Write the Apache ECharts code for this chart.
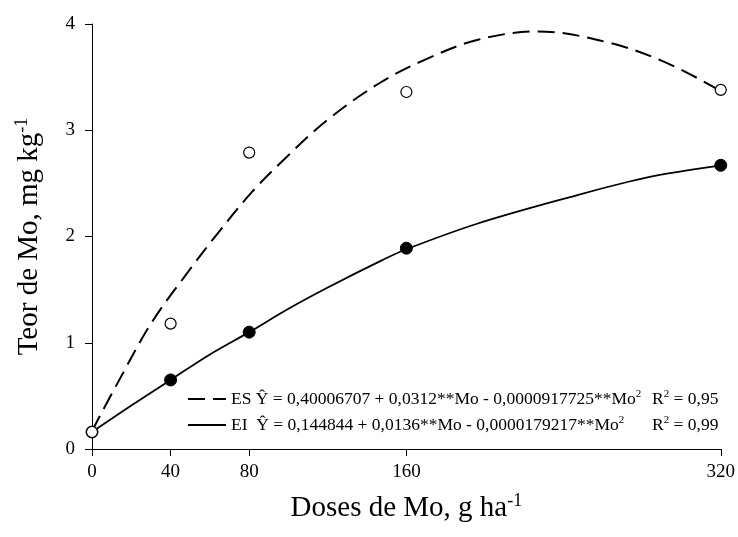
<!DOCTYPE html>
<html>
<head>
<meta charset="utf-8">
<script src="https://cdn.jsdelivr.net/npm/echarts@6/dist/echarts.min.js"></script>
<style>
html,body{margin:0;padding:0;background:#fff;}
#chart{width:738px;height:537px;}
</style>
</head>
<body>
<div id="chart"></div>
<script>
// ---- data ----
const doseTicks = [0, 40, 80, 160, 320];
const yTicks = [0, 1, 2, 3, 4];
const obsDose = [0, 40, 80, 160, 320];
const esObs = [0.16, 1.18, 2.79, 3.36, 3.38];
const eiObs = [0.16, 0.65, 1.10, 1.89, 2.67];
// fitted curves
const esCurveDose = [0, 13, 30, 47, 64, 81, 98, 120, 146, 169, 196, 227, 264, 293, 320];
const esCurveVal  = [0.17, 0.62, 1.18, 1.62, 2.03, 2.41, 2.73, 3.10, 3.44, 3.66, 3.85, 3.93, 3.82, 3.63, 3.37];
const eiCurveDose = [0, 20, 40, 60, 80, 100, 120, 148, 160, 196, 247, 274, 289, 320];
const eiCurveVal  = [0.16, 0.41, 0.65, 0.89, 1.10, 1.32, 1.52, 1.78, 1.88, 2.12, 2.39, 2.52, 2.58, 2.67];
const esLabel = 'ES Ŷ = 0,40006707 + 0,0312**Mo - 0,0000917725**Mo';
const eiLabel = 'EI  Ŷ = 0,144844 + 0,0136**Mo - 0,0000179217**Mo';
const esR2 = ' = 0,95';
const eiR2 = ' = 0,99';

const FONT = "'Liberation Serif', 'Times New Roman', serif";
const LEG_FS = 17.5, SUP_FS = 11;

// measure text to align the R² column
const ctx = document.createElement('canvas').getContext('2d');
function tw(s, fs) { ctx.font = fs + "px 'Liberation Serif'"; return ctx.measureText(s).width; }
const r2Offset = 421;
const spES = Math.max(4, r2Offset - tw(esLabel, LEG_FS) - tw('2', SUP_FS));
const spEI = Math.max(4, r2Offset - tw(eiLabel, LEG_FS) - tw('2', SUP_FS));

const zip = (a, b) => a.map((v, i) => [v, b[i]]);

const chart = echarts.init(document.getElementById('chart'));
chart.setOption({
  animation: false,
  backgroundColor: '#fff',
  grid: { left: 92, right: 16, top: 24, bottom: 88 },
  legend: {
    left: 187, top: 389, orient: 'vertical', padding: 0,
    itemWidth: 38, itemHeight: 14, itemGap: 7, itemTextGap: 10,
    itemStyle: { opacity: 0 },
    data: ['ES', 'EI'],
    formatter: function (name) {
      if (name === 'ES') return '{t|' + esLabel + '}{s|2}{a| }{t|R}{s|2}{t|' + esR2 + '}';
      return '{t|' + eiLabel + '}{s|2}{b| }{t|R}{s|2}{t|' + eiR2 + '}';
    },
    textStyle: {
      fontFamily: FONT, color: '#000',
      rich: {
        t: { fontFamily: FONT, fontSize: LEG_FS, color: '#000', lineHeight: 20 },
        s: { fontFamily: FONT, fontSize: SUP_FS, color: '#000', verticalAlign: 'top', lineHeight: 20 },
        a: { fontFamily: FONT, fontSize: LEG_FS, width: spES, lineHeight: 20 },
        b: { fontFamily: FONT, fontSize: LEG_FS, width: spEI, lineHeight: 20 }
      }
    }
  },
  xAxis: {
    type: 'value', min: 0, max: 320,
    name: '{n|Doses de Mo, g ha}{s|-1}',
    nameLocation: 'middle', nameGap: 43,
    nameTextStyle: {
      rich: {
        n: { fontFamily: FONT, fontSize: 29, color: '#000', lineHeight: 32 },
        s: { fontFamily: FONT, fontSize: 18, color: '#000', verticalAlign: 'top', lineHeight: 32 }
      }
    },
    axisLine: { show: true, lineStyle: { color: '#000', width: 1 } },
    axisTick: { show: true, length: 7, inside: false, customValues: doseTicks, lineStyle: { color: '#000' } },
    axisLabel: { customValues: doseTicks, margin: 14, color: '#000', fontFamily: FONT, fontSize: 19 },
    splitLine: { show: false }
  },
  yAxis: {
    type: 'value', min: 0, max: 4, interval: 1,
    name: '{n|Teor de Mo, mg kg}{s|-1}',
    nameLocation: 'middle', nameGap: 47,
    nameTextStyle: {
      rich: {
        n: { fontFamily: FONT, fontSize: 29, color: '#000', lineHeight: 32 },
        s: { fontFamily: FONT, fontSize: 18, color: '#000', verticalAlign: 'top', lineHeight: 32 }
      }
    },
    axisLine: { show: true, lineStyle: { color: '#000', width: 1 } },
    axisTick: { show: true, length: 7, lineStyle: { color: '#000' } },
    axisLabel: { margin: 17, color: '#000', fontFamily: FONT, fontSize: 19,
      customValues: yTicks },
    splitLine: { show: false }
  },
  series: [
    {
      name: 'ES', type: 'line', data: zip(esCurveDose, esCurveVal),
      smooth: 0.35, symbol: 'none',
      itemStyle: { color: '#000' },
      lineStyle: { color: '#000', width: 2, type: [17, 8] }, z: 2
    },
    {
      name: 'EI', type: 'line', data: zip(eiCurveDose, eiCurveVal),
      smooth: 0.35, symbol: 'none',
      itemStyle: { color: '#000' },
      lineStyle: { color: '#000', width: 1.8, type: 'solid' }, z: 2
    },
    {
      name: 'EI obs', type: 'scatter', data: zip(obsDose, eiObs),
      symbol: 'circle', symbolSize: 12,
      itemStyle: { color: '#000', borderColor: '#000', borderWidth: 1, opacity: 1 }, z: 3
    },
    {
      name: 'ES obs', type: 'scatter', data: zip(obsDose, esObs),
      symbol: 'circle', symbolSize: 11,
      itemStyle: { color: '#fff', borderColor: '#000', borderWidth: 1.2, opacity: 1 }, z: 4
    }
  ]
});
</script>
</body>
</html>
